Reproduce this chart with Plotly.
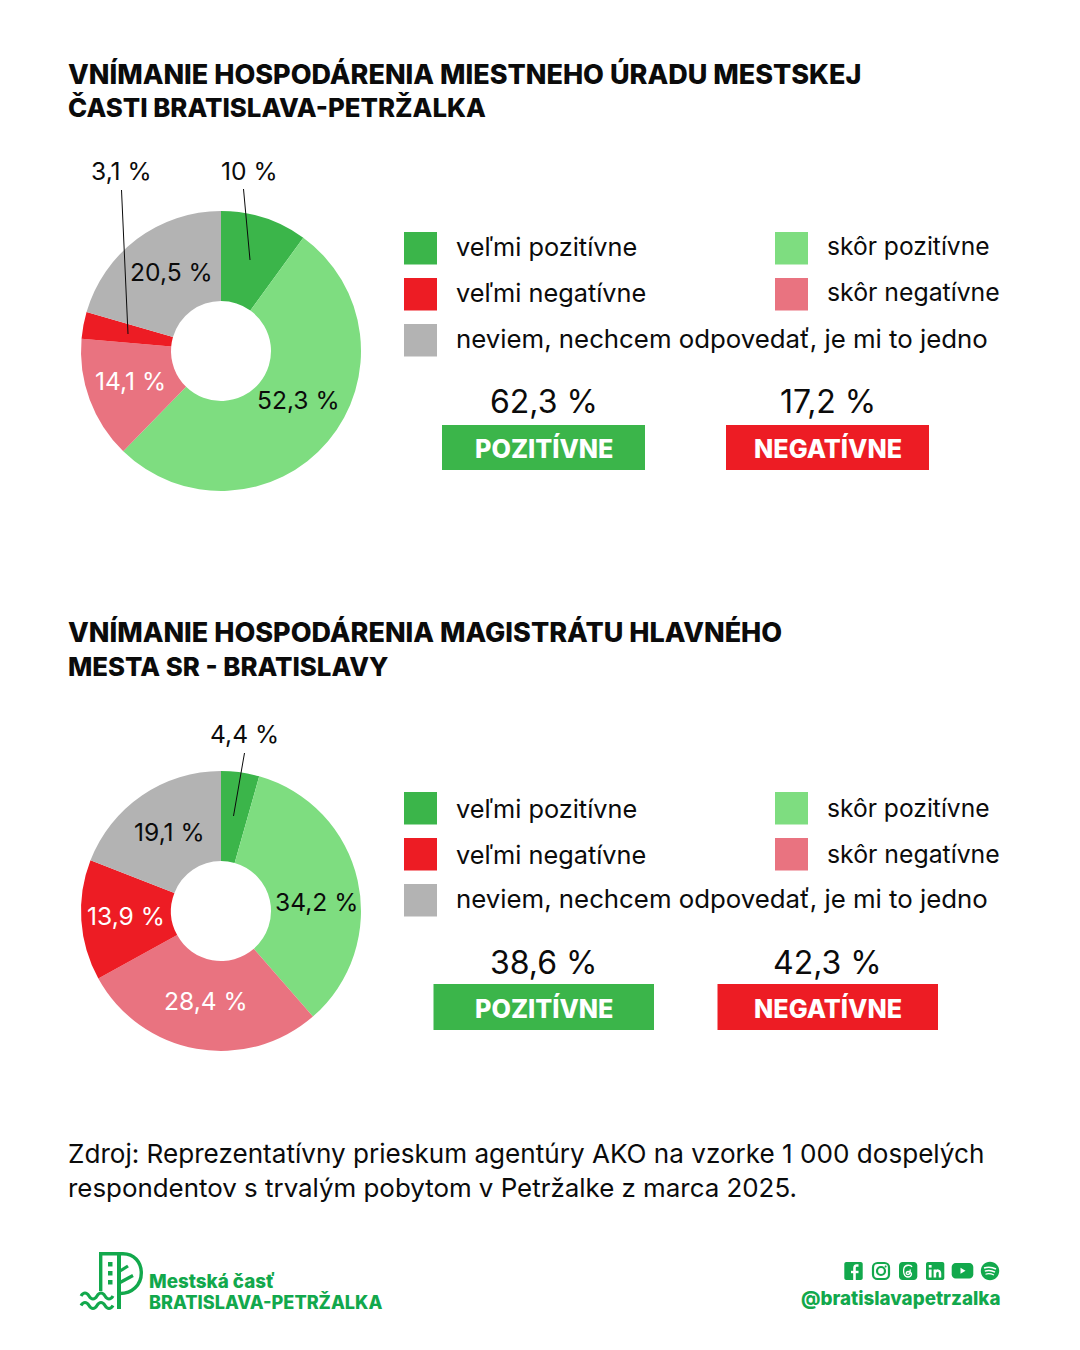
import plotly.graph_objects as go

W, H = 1080, 1350
FONT = "Inter"
BLACK = "#0b0b0b"
C_VPOS, C_POS, C_VNEG, C_NEG, C_GREY = "#3bb54a", "#7edd80", "#ed1c24", "#e97380", "#b3b3b3"
BRAND = "#12a84c"

categories = ["veľmi pozitívne", "skôr pozitívne", "skôr negatívne", "veľmi negatívne",
              "neviem, nechcem odpovedať, je mi to jedno"]
values_local = [10, 52.3, 14.1, 3.1, 20.5]
values_city = [4.4, 34.2, 28.4, 13.9, 19.1]
labels_local = ["10 %", "52,3 %", "14,1 %", "3,1 %", "20,5 %"]
labels_city = ["4,4 %", "34,2 %", "28,4 %", "13,9 %", "19,1 %"]
colors = [C_VPOS, C_POS, C_NEG, C_VNEG, C_GREY]

title_local = "VNÍMANIE HOSPODÁRENIA MIESTNEHO ÚRADU MESTSKEJ<br>ČASTI BRATISLAVA-PETRŽALKA"
title_city = "VNÍMANIE HOSPODÁRENIA MAGISTRÁTU HLAVNÉHO<br>MESTA SR - BRATISLAVY"
totals_local = ["62,3 %", "17,2 %"]
totals_city = ["38,6 %", "42,3 %"]
badges = ["POZITÍVNE", "NEGATÍVNE"]
source = ("Zdroj: Reprezentatívny prieskum agentúry AKO na vzorke 1 000 dospelých<br>"
          "respondentov s trvalým pobytom v Petržalke z marca 2025.")


def X(px):
    return px / W


def Y(py):
    return 1 - py / H


fig = go.Figure()
annotations, shapes = [], []


def text(x, y, s, size, color=BLACK, anchor="left", weight=400):
    annotations.append(dict(x=X(x), y=Y(y), xref="paper", yref="paper", text=s, showarrow=False,
                            xanchor=anchor, yanchor="middle", align=anchor,
                            font=dict(family=FONT, size=size, color=color, weight=weight),
                            borderpad=0, borderwidth=0))


def rect(x0, y0, x1, y1, color):
    shapes.append(dict(type="rect", xref="paper", yref="paper", x0=X(x0), x1=X(x1), y0=Y(y0), y1=Y(y1),
                       fillcolor=color, line=dict(width=0), layer="above"))


def seg(x0, y0, x1, y1, color=BLACK, width=1):
    shapes.append(dict(type="line", xref="paper", yref="paper", x0=X(x0), x1=X(x1), y0=Y(y0), y1=Y(y1),
                       line=dict(color=color, width=width), layer="above"))


def pth(cmds, fill=None, stroke=None, width=0):
    """cmds: list of (letter, x, y, ...) in picture pixels."""
    parts = []
    for c in cmds:
        if c[0] == "Z":
            parts.append("Z")
        else:
            nums = c[1:]
            xy = [f"{X(nums[i]):.5f},{Y(nums[i + 1]):.5f}" for i in range(0, len(nums), 2)]
            parts.append(c[0] + " ".join(xy))
    shapes.append(dict(type="path", xref="paper", yref="paper", path=" ".join(parts),
                       fillcolor=fill if fill else "rgba(0,0,0,0)",
                       line=dict(color=stroke if stroke else "rgba(0,0,0,0)", width=width), layer="above"))


def circle_cmds(cx, cy, r):
    k = 0.5523 * r
    return [("M", cx + r, cy), ("C", cx + r, cy + k, cx + k, cy + r, cx, cy + r),
            ("C", cx - k, cy + r, cx - r, cy + k, cx - r, cy), ("C", cx - r, cy - k, cx - k, cy - r, cx, cy - r),
            ("C", cx + k, cy - r, cx + r, cy - k, cx + r, cy), ("Z",)]


def round_cmds(x0, y0, x1, y1, r):
    k = 0.45 * r
    return [("M", x0 + r, y0), ("L", x1 - r, y0), ("C", x1 - k, y0, x1, y0 + k, x1, y0 + r),
            ("L", x1, y1 - r), ("C", x1, y1 - k, x1 - k, y1, x1 - r, y1), ("L", x0 + r, y1),
            ("C", x0 + k, y1, x0, y1 - k, x0, y1 - r), ("L", x0, y0 + r),
            ("C", x0, y0 + k, x0 + k, y0, x0 + r, y0), ("Z",)]


for vals, top in ((values_local, 211), (values_city, 771)):
    fig.add_trace(go.Pie(values=vals, labels=categories, sort=False, direction="clockwise", rotation=0,
                         hole=50 / 140, marker=dict(colors=colors, line=dict(width=0)), textinfo="none",
                         hoverinfo="label+percent", showlegend=False,
                         domain=dict(x=[X(81), X(361)], y=[Y(top + 280), Y(top)])))

# titles
for y0, t in ((91, title_local), (649, title_city)):
    a, b = t.split("<br>")
    text(68, y0 - 17, a, 27, BLACK, weight=800)
    text(68, y0 + 17, b, 25.8, BLACK, weight=800)

# slice labels
for x, y, s, c in ((121, 171, labels_local[3], BLACK), (249, 171, labels_local[0], BLACK),
                   (171, 272, labels_local[4], BLACK), (298, 400, labels_local[1], BLACK),
                   (130, 381, labels_local[2], "#ffffff"),
                   (244, 734, labels_city[0], BLACK), (316, 902, labels_city[1], BLACK),
                   (169, 832, labels_city[4], BLACK), (126, 916, labels_city[3], "#ffffff"),
                   (206, 1001, labels_city[2], "#ffffff")):
    text(x, y, s, 24.6, c, anchor="center")
seg(121.5, 190, 128, 334)
seg(243.5, 189, 250, 260)
seg(244.5, 753, 233.5, 816)

# legends
for tys, sqs in (((246, 292, 339), (248, 294, 340)), ((808, 854, 898), (808, 854, 900))):
    rect(404, sqs[0] - 16, 437, sqs[0] + 16.5, C_VPOS)
    rect(775, sqs[0] - 16, 808, sqs[0] + 16.5, C_POS)
    rect(404, sqs[1] - 16, 437, sqs[1] + 16.5, C_VNEG)
    rect(775, sqs[1] - 16, 808, sqs[1] + 16.5, C_NEG)
    rect(404, sqs[2] - 16, 437, sqs[2] + 16.5, C_GREY)
    text(456, tys[0], categories[0], 25.3)
    text(827, tys[0], categories[1], 24.6)
    text(456, tys[1], categories[3], 25.3)
    text(827, tys[1], categories[2], 24.8)
    text(456, tys[2], categories[4], 25.8)

# totals and badges
text(543.5, 402, totals_local[0], 32, anchor="center")
text(827.5, 402, totals_local[1], 32, anchor="center")
rect(442, 425, 645, 470, C_VPOS)
rect(726, 425, 929, 470, C_VNEG)
text(543.5, 448, badges[0], 25.2, "#ffffff", "center", 800)
text(827.5, 448, badges[1], 25.2, "#ffffff", "center", 800)

text(543.5, 962, totals_city[0], 32, anchor="center")
text(827.5, 962, totals_city[1], 32, anchor="center")
rect(433.5, 984, 654, 1030, C_VPOS)
rect(717.5, 984, 938, 1030, C_VNEG)
text(543.5, 1008, badges[0], 25.2, "#ffffff", "center", 800)
text(827.5, 1008, badges[1], 25.2, "#ffffff", "center", 800)

# source
a, b = source.split("<br>")
text(68, 1153, a, 26.1)
text(68, 1187, b, 25.9)

# footer wordmark
text(149, 1281, "Mestská časť", 18.8, BRAND, weight=800)
text(149, 1302, "BRATISLAVA-PETRŽALKA", 18.1, BRAND, weight=800)
text(1000, 1298, "@bratislavapetrzalka", 18.8, BRAND, "right", 800)

# footer logo
pth([("M", 100.7, 1291), ("L", 100.7, 1253.7), ("L", 123, 1253.7),
     ("C", 134, 1253.7, 141.3, 1262, 141.3, 1273), ("C", 141.3, 1285, 132, 1293.5, 120, 1293.5)],
    stroke=BRAND, width=3.4)
seg(119, 1252, 119, 1309, BRAND, 4)
for yy in (1262, 1271, 1280):
    rect(108, yy, 112.5, yy + 4.5, BRAND)
seg(120, 1271, 128, 1266, BRAND, 3.2)
seg(120, 1282.5, 133, 1275.5, BRAND, 3.2)
for wy in (1296, 1305.5):
    pth([("M", 81, wy), ("C", 83.5, wy - 4, 86.5, wy - 4, 89, wy), ("C", 91.5, wy + 4, 94.5, wy + 4, 97, wy),
         ("C", 99.5, wy - 4, 102.5, wy - 4, 105, wy), ("C", 107.5, wy + 4, 110.5, wy + 4, 113, wy)],
        stroke=BRAND, width=3.2)

# footer icons
WHITE = "#ffffff"
pth(round_cmds(844.3, 1262, 862.7, 1280, 2), fill=BRAND)
pth([("M", 858.5, 1265.5), ("L", 856.5, 1265.5), ("C", 855, 1265.5, 854.5, 1266.5, 854.5, 1268), ("L", 854.5, 1280)],
    stroke=WHITE, width=2.6)
seg(851, 1272, 858.5, 1272, WHITE, 2.4)

pth(round_cmds(873, 1263, 889, 1279, 4.5), stroke=BRAND, width=2.2)
pth(circle_cmds(881, 1271, 4), stroke=BRAND, width=2.2)
pth(circle_cmds(885.6, 1266.4, 1), fill=BRAND)

pth(round_cmds(899, 1262, 917.3, 1280, 3.5), fill=BRAND)
pth([("M", 912, 1267), ("C", 911, 1264.5, 905, 1264.5, 904, 1268), ("C", 903, 1272, 904, 1277, 908, 1277),
     ("C", 912, 1277, 913, 1272, 908.5, 1271.5), ("C", 905.5, 1271.5, 905.5, 1274.5, 908, 1274.5),
     ("C", 910, 1274.5, 910.5, 1272, 910, 1269.5)], stroke=WHITE, width=1.3)

pth(round_cmds(926, 1262, 944.3, 1280, 2), fill=BRAND)
rect(928.8, 1269.5, 931.6, 1277.5, WHITE)
rect(928.8, 1265, 931.6, 1267.6, WHITE)
rect(933.6, 1269.5, 936.2, 1277.5, WHITE)
pth([("M", 935.5, 1272), ("C", 937, 1270, 939.6, 1270, 940, 1273), ("L", 940, 1277.5)], stroke=WHITE, width=2.5)

pth(round_cmds(951.7, 1263, 973.3, 1278.5, 4), fill=BRAND)
pth([("M", 960.5, 1267.8), ("L", 960.5, 1273.8), ("L", 965.5, 1270.8), ("Z",)], fill=WHITE)

pth(circle_cmds(990, 1271, 9.2), fill=BRAND)
pth([("M", 984, 1268), ("C", 988, 1266.8, 992, 1267, 996, 1269)], stroke=WHITE, width=1.6)
pth([("M", 984.8, 1271.2), ("C", 988, 1270.2, 992, 1270.5, 995, 1272.2)], stroke=WHITE, width=1.4)
pth([("M", 985.5, 1274.2), ("C", 988, 1273.4, 991, 1273.6, 994, 1275)], stroke=WHITE, width=1.2)

fig.update_layout(width=W, height=H, margin=dict(l=0, r=0, t=0, b=0), paper_bgcolor="#ffffff",
                  plot_bgcolor="#ffffff", annotations=annotations, shapes=shapes)
fig.write_html("out.html", config=dict(displayModeBar=False), post_script="document.body.style.margin='0';")
